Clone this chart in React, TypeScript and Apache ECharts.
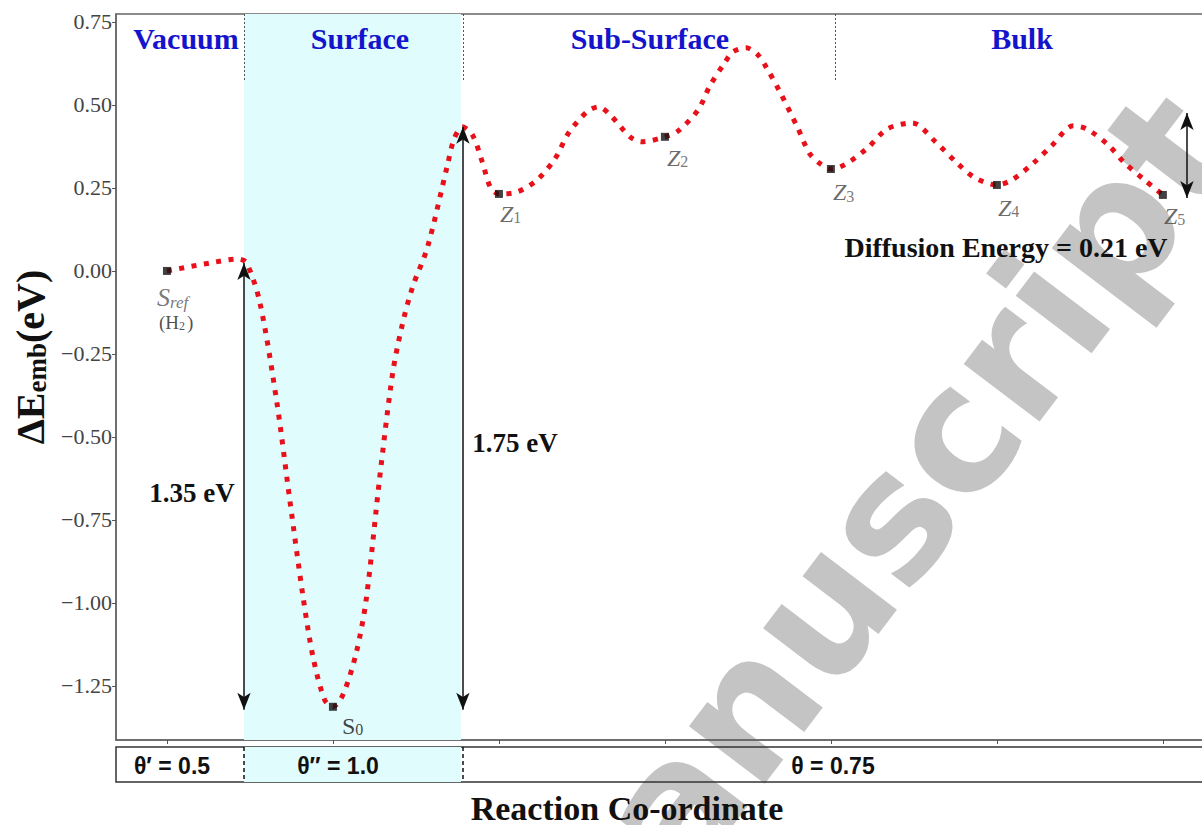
import React, { useEffect, useRef } from 'react';
import * as echarts from 'echarts';

// Reaction path curve (x = reaction co-ordinate, y = ΔE in eV)
const curveX = [0, 0.26, 0.43, 0.48, 0.56, 0.66, 0.74, 0.82, 0.88, 0.95, 1.0, 1.06, 1.14, 1.2, 1.28, 1.36, 1.42, 1.48, 1.57, 1.69, 1.73, 1.78, 1.84, 1.9, 1.95, 2.0, 2.11, 2.23, 2.34, 2.42, 2.53, 2.6, 2.67, 2.79, 2.86, 3.0, 3.08, 3.2, 3.27, 3.36, 3.41, 3.49, 3.56, 3.61, 3.69, 3.8, 3.87, 3.93, 4.0, 4.09, 4.22, 4.34, 4.49, 4.63, 4.76, 4.87, 5.0, 5.09, 5.22, 5.33, 5.46, 5.54, 5.67, 5.77, 5.89, 6.0];
const curveY = [0, 0.024, 0.036, 0.024, -0.096, -0.389, -0.69, -0.982, -1.163, -1.292, -1.313, -1.277, -1.151, -0.991, -0.63, -0.307, -0.157, -0.048, 0.072, 0.319, 0.398, 0.434, 0.41, 0.328, 0.25, 0.232, 0.238, 0.274, 0.34, 0.416, 0.479, 0.494, 0.47, 0.404, 0.389, 0.404, 0.422, 0.485, 0.557, 0.627, 0.66, 0.672, 0.651, 0.614, 0.542, 0.431, 0.355, 0.325, 0.307, 0.322, 0.37, 0.428, 0.446, 0.389, 0.325, 0.28, 0.259, 0.274, 0.325, 0.377, 0.437, 0.428, 0.38, 0.325, 0.274, 0.229];

// Marked states
const pointX = [0, 1, 2, 3, 4, 5, 6];
const pointY = [0, -1.313, 0.232, 0.404, 0.307, 0.259, 0.229];
const pointLabels = [
  '{it|S}{its|ref}\n{h|(H}{hs|2}{h|)}',
  '{n|S}{ns|0}',
  '{z|Z}{zs|1}',
  '{z|Z}{zs|2}',
  '{z|Z}{zs|3}',
  '{z|Z}{zs|4}',
  '{z|Z}{zs|5}',
];

const yTicks = [-1.25, -1.0, -0.75, -0.5, -0.25, 0, 0.25, 0.5, 0.75];
const xTicks = [0, 1, 2, 3, 4, 5, 6];

const regionNames = ['Vacuum', 'Surface', 'Sub-Surface', 'Bulk'];
const regionBounds = [0.464, 1.783, 4.024];
const surfaceBand = [0.464, 1.771];
const thetaLabels = ['θ′ = 0.5', 'θ″ = 1.0', 'θ = 0.75'];

// Energy arrows: [x, yTop, yBottom]
const arrowSpans = [
  [0.464, 0.024, -1.322],
  [1.783, 0.434, -1.322],
  [6.145, 0.476, 0.22],
];
const annotations = ['1.35 eV', '1.75 eV', 'Diffusion Energy = 0.21 eV'];
const watermarkText = 'manuscript';

const X_MIN = -0.307;
const X_MAX = 6.32;
const Y_MIN = -1.413;
const Y_MAX = 0.774;
const SEP_BOTTOM = 0.575;

const labelOffsets = [
  [-6, 17],
  [13, 7],
  [5, 8],
  [6, 9],
  [6, 11],
  [5, 11],
  [5, 9],
];

const serif = '"Liberation Serif", "Times New Roman", serif';
const sans = '"Liberation Sans Narrow", "Liberation Sans", Arial, sans-serif';

export default function App() {
  const ref = useRef<HTMLDivElement>(null);
  useEffect(() => {
    if (!ref.current) return;
    const chart = echarts.init(ref.current, null, { renderer: 'svg' });
    const blue = '#1414cc';
    const fmt = (v: number) => (v < 0 ? '\u2212' : '') + Math.abs(v).toFixed(2);
    const wmAngle = (52.8 * Math.PI) / 180;

    const option: any = {
      animation: false,
      backgroundColor: '#ffffff',
      grid: [
        { left: 116, top: 14, width: 1100, height: 726, show: true, borderColor: '#666', borderWidth: 1.5, backgroundColor: 'transparent' },
        { left: 116, top: 747, width: 1100, height: 35, show: true, borderColor: '#333', borderWidth: 1.5, backgroundColor: 'transparent' },
      ],
      xAxis: [
        {
          type: 'value', gridIndex: 0, min: X_MIN, max: X_MAX,
          axisLine: { show: true, onZero: false, lineStyle: { color: '#666', width: 1.5 } },
          splitLine: { show: false },
          axisLabel: { show: false },
          axisTick: { show: true, customValues: xTicks, length: 4, lineStyle: { color: '#555' } },
        },
        { type: 'value', gridIndex: 1, min: X_MIN, max: X_MAX, show: false },
      ],
      yAxis: [
        {
          type: 'value', gridIndex: 0, min: Y_MIN, max: Y_MAX,
          axisLine: { show: true, onZero: false, lineStyle: { color: '#666', width: 1.5 } },
          splitLine: { show: false },
          axisTick: { show: true, customValues: yTicks, length: 4, lineStyle: { color: '#555' } },
          axisLabel: { customValues: yTicks, formatter: fmt, fontFamily: serif, fontSize: 22, color: '#444', margin: 4 },
        },
        { type: 'value', gridIndex: 1, min: 0, max: 1, show: false },
      ],
      series: [
        {
          type: 'line', xAxisIndex: 0, yAxisIndex: 0, data: [], z: 1, silent: true,
          markArea: {
            silent: true,
            itemStyle: { color: '#e1fcfd' },
            data: [[{ xAxis: surfaceBand[0] }, { xAxis: surfaceBand[1] }]],
          },
          markLine: {
            silent: true, symbol: 'none', label: { show: false },
            lineStyle: { color: '#555', width: 1, type: [2, 2] },
            data: regionBounds.map((x) => [{ coord: [x, Y_MAX] }, { coord: [x, SEP_BOTTOM] }]),
          },
        },
        {
          type: 'line', xAxisIndex: 0, yAxisIndex: 0, z: 3,
          data: curveX.map((x, i) => [x, curveY[i]]),
          smooth: 0.3, showSymbol: false, silent: true,
          lineStyle: { color: '#e8101a', width: 5, type: [5, 7.5], cap: 'butt' },
        },
        {
          type: 'line', xAxisIndex: 0, yAxisIndex: 0, data: [], z: 4, silent: true,
          markLine: {
            silent: true, symbol: ['arrow', 'arrow'], symbolSize: [10, 17], label: { show: false },
            lineStyle: { color: '#111', width: 1.5, type: 'solid' },
            data: arrowSpans.map((a) => [{ coord: [a[0], a[1]] }, { coord: [a[0], a[2]] }]),
          },
        },
        {
          type: 'scatter', xAxisIndex: 0, yAxisIndex: 0, z: 5, silent: true,
          symbol: 'rect', symbolSize: 8,
          itemStyle: { color: '#111' },
          data: pointX.map((x, i) => ({
            value: [x, pointY[i]],
            label: {
              show: true,
              position: labelOffsets[i],
              align: 'left',
              verticalAlign: 'top',
              formatter: pointLabels[i],
              rich: {
                it: { fontFamily: serif, fontStyle: 'italic', fontSize: 26, color: '#555', lineHeight: 27, verticalAlign: 'bottom' },
                its: { fontFamily: serif, fontStyle: 'italic', fontSize: 17, color: '#555', lineHeight: 12, verticalAlign: 'bottom' },
                h: { fontFamily: serif, fontSize: 19, color: '#222', lineHeight: 21, verticalAlign: 'bottom', padding: [0, 0, 0, 2] },
                hs: { fontFamily: serif, fontSize: 12, color: '#222', lineHeight: 8, verticalAlign: 'bottom' },
                n: { fontFamily: serif, fontSize: 24, color: '#111', lineHeight: 28, verticalAlign: 'bottom' },
                ns: { fontFamily: serif, fontSize: 16, color: '#111', lineHeight: 13, verticalAlign: 'bottom' },
                z: { fontFamily: serif, fontStyle: 'italic', fontSize: 24, color: '#444', lineHeight: 28, verticalAlign: 'bottom' },
                zs: { fontFamily: serif, fontSize: 16, color: '#555', lineHeight: 13, verticalAlign: 'bottom' },
              },
            },
          })),
        },
        {
          type: 'line', xAxisIndex: 1, yAxisIndex: 1, data: [], z: 1, silent: true,
          markArea: {
            silent: true,
            itemStyle: { color: '#e1fcfd' },
            data: [[{ xAxis: surfaceBand[0] }, { xAxis: surfaceBand[1] }]],
          },
          markLine: {
            silent: true, symbol: 'none', label: { show: false },
            lineStyle: { color: '#111', width: 1.5, type: [4, 3] },
            data: [regionBounds[0], regionBounds[1]].map((x) => [{ coord: [x, 1] }, { coord: [x, 0] }]),
          },
        },
      ],
      graphic: [
        {
          type: 'text', x: 527, y: 997, rotation: wmAngle, z: -10, silent: true,
          style: { text: watermarkText, fontFamily: '"DejaVu Sans", sans-serif', fontWeight: 'bold', fontSize: 174, fill: '#c4c4c4', align: 'left', verticalAlign: 'middle' },
        },
        ...[186, 360, 650, 1022].map((cx, i) => ({
          type: 'text', x: cx, y: 38, z: 50, silent: true,
          style: { text: regionNames[i], fontFamily: serif, fontWeight: 'bold', fontSize: 30, fill: blue, align: 'center', verticalAlign: 'middle' },
        })),
        ...[172, 338, 833].map((cx, i) => ({
          type: 'text', x: cx, y: 766, z: 50, silent: true,
          style: { text: thetaLabels[i], fontFamily: sans, fontWeight: 'bold', fontSize: 23, fill: '#111', align: 'center', verticalAlign: 'middle' },
        })),
        ...[[192, 493], [515, 443], [1006, 247]].map((p, i) => ({
          type: 'text', x: p[0], y: p[1], z: 50, silent: true,
          style: { text: annotations[i], fontFamily: serif, fontWeight: 'bold', fontSize: i === 2 ? 28 : 27, fill: '#111', align: 'center', verticalAlign: 'middle' },
        })),
        {
          type: 'text', x: 627, y: 808, z: 50, silent: true,
          style: { text: 'Reaction Co-ordinate', fontFamily: serif, fontWeight: 'bold', fontSize: 34, fill: '#111', align: 'center', verticalAlign: 'middle' },
        },
        {
          type: 'text', x: 28, y: 357, rotation: Math.PI / 2, z: 50, silent: true,
          style: {
            text: '{a|ΔE}{b|emb}{a|(eV)}',
            align: 'center', verticalAlign: 'middle',
            rich: {
              a: { fontFamily: serif, fontWeight: 'bold', fontSize: 40, fill: '#111', lineHeight: 44, verticalAlign: 'bottom' },
              b: { fontFamily: serif, fontWeight: 'bold', fontSize: 27, fill: '#111', lineHeight: 20, verticalAlign: 'bottom' },
            },
          },
        },
      ],
    };
    chart.setOption(option);
    return () => chart.dispose();
  }, []);

  return (
    <div style={{ position: 'fixed', left: 0, top: 0, width: 1202, height: 825, overflow: 'hidden', background: '#fff' }}>
      <div ref={ref} style={{ width: 1240, height: 825 }} />
    </div>
  );
}
